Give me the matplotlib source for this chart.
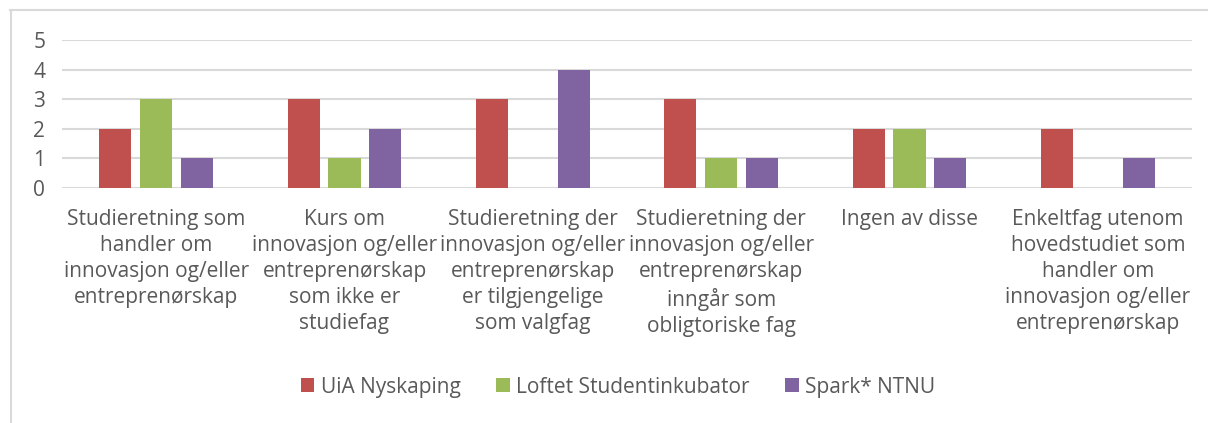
import matplotlib.pyplot as plt
import numpy as np
from matplotlib.lines import Line2D

kategorier = [
    "Studieretning som\nhandler om\ninnovasjon og/eller\nentreprenørskap",
    "Kurs om\ninnovasjon og/eller\nentreprenørskap\nsom ikke er\nstudiefag",
    "Studieretning der\ninnovasjon og/eller\nentreprenørskap\ner tilgjengelige\nsom valgfag",
    "Studieretning der\ninnovasjon og/eller\nentreprenørskap\ninngår som\nobligtoriske fag",
    "Ingen av disse",
    "Enkeltfag utenom\nhovedstudiet som\nhandler om\ninnovasjon og/eller\nentreprenørskap",
]
serier = ["UiA Nyskaping", "Loftet Studentinkubator", "Spark* NTNU"]
uia = [2, 3, 3, 3, 2, 2]
loftet = [3, 1, 0, 1, 2, 0]
spark = [1, 2, 4, 1, 1, 1]
farger = ["#C0504D", "#9BBB59", "#8064A2"]

plt.rcParams['font.family'] = ['Open Sans', 'DejaVu Sans']
tekstfarge = "#595959"

fig = plt.figure(figsize=(12.08, 4.23), dpi=100)
ax = fig.add_axes([62 / 1208, 1 - 188 / 423, (1192 - 62) / 1208, (188 - 40) / 423])

x = np.arange(len(kategorier))
bredde = 0.17
steg = 0.217
for i, (verdier, navn) in enumerate(zip([uia, loftet, spark], serier)):
    ax.bar(x + (i - 1) * steg, verdier, bredde, color=farger[i], label=navn, zorder=3)

ax.set_xlim(-0.5, len(kategorier) - 0.5)
ax.set_ylim(0, 5)
ax.set_yticks(range(6))
ax.yaxis.grid(True, color="#D9D9D9", lw=1.5, zorder=0)
for s in ax.spines.values():
    s.set_visible(False)
ax.tick_params(length=0, colors=tekstfarge, labelsize=15)
ax.tick_params(axis='y', pad=12)
ax.set_xticks(x)
ax.set_xticklabels(kategorier, linespacing=1.32, va='top')
ax.tick_params(axis='x', pad=15)

fig.legend(loc='center', bbox_to_anchor=(618 / 1208, 1 - 387 / 423), ncol=3, frameon=False,
           fontsize=15, handlelength=0.67, handleheight=0.67, handletextpad=0.3,
           columnspacing=1.7, labelcolor=tekstfarge)

# ramme rundt diagrammet
fig.add_artist(Line2D([10 / 1208, 1], [1 - 10 / 423, 1 - 10 / 423], color="#D9D9D9", lw=1.5))
fig.add_artist(Line2D([10.5 / 1208, 10.5 / 1208], [0, 1 - 10 / 423], color="#D9D9D9", lw=1.5))

fig.savefig("out.png", dpi=100)
